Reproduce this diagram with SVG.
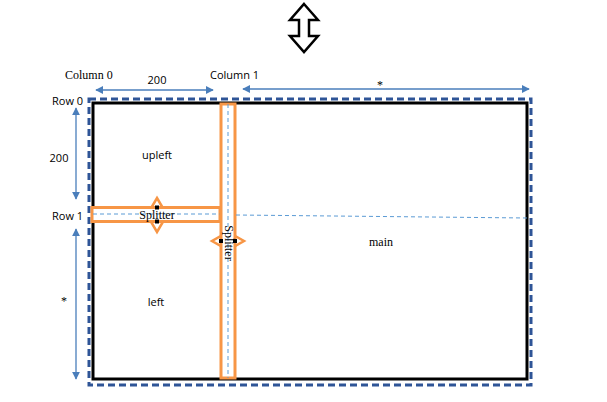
<svg xmlns="http://www.w3.org/2000/svg" width="607" height="402" viewBox="0 0 607 402">
<style>
.serif{font-family:"Liberation Serif",serif;font-size:12px;fill:#000}
.sans{font-family:"Open Sans","Liberation Sans",sans-serif;font-size:11px;fill:#000}
.dim{stroke:#4A7EBB;stroke-width:1.3;fill:none}
.guide{stroke:#5B9BD5;stroke-width:1;stroke-dasharray:4 3;fill:none}
.spl{fill:#fff;stroke:#F79646;stroke-width:3}
.dia{fill:#fff;stroke:#F79646;stroke-width:2.5}
</style>
<defs>
<marker id="ah" viewBox="0 0 10 10" refX="9" refY="5" markerWidth="8" markerHeight="8" orient="auto-start-reverse" markerUnits="userSpaceOnUse">
<path d="M0,0 L10,5 L0,10 z" fill="#4A7EBB"/>
</marker>
</defs>
<rect width="607" height="402" fill="#fff"/>
<g id="bigarrow">
<path d="M304,4 L318,20 L309,20 L309,36 L318,36 L304,52 L290,36 L299,36 L299,20 L290,20 Z" fill="#fff" stroke="#000" stroke-width="2.5" stroke-linejoin="miter"/>
</g>
<g id="grid">
<rect x="89" y="99" width="442" height="286" fill="none" stroke="#2F5597" stroke-width="3" stroke-dasharray="7 4"/>
<rect x="93" y="103" width="434" height="276" fill="none" stroke="#000" stroke-width="3"/>
</g>
<g id="connectors">
<line class="dim" x1="96" y1="90" x2="213" y2="90" marker-start="url(#ah)" marker-end="url(#ah)"/>
<line class="dim" x1="243" y1="89" x2="529" y2="89" marker-start="url(#ah)" marker-end="url(#ah)"/>
<line class="dim" x1="76" y1="108" x2="76" y2="199" marker-start="url(#ah)" marker-end="url(#ah)"/>
<line class="dim" x1="76" y1="229" x2="76" y2="379" marker-start="url(#ah)" marker-end="url(#ah)"/>
</g>
<g id="hsplitter">
<path class="dia" d="M157,198 L167,215 L157,232 L147,215 Z"/>
<rect class="spl" x="92" y="207.5" width="128" height="14"/>
<line class="guide" x1="93" y1="214" x2="220" y2="214"/>
<rect x="155" y="205.5" width="4" height="4" fill="#000"/>
<rect x="155" y="219.5" width="4" height="4" fill="#000"/>
<text class="serif" x="157" y="219" text-anchor="middle">Splitter</text>
</g>
<g id="vsplitter">
<path class="dia" d="M228,232 L244,241 L228,250 L212,241 Z"/>
<rect class="spl" x="221" y="104" width="14" height="274"/>
<line class="guide" x1="228" y1="104" x2="228" y2="378"/>
<line class="guide" x1="236" y1="215" x2="527" y2="218"/>
<rect x="219" y="239" width="4" height="4" fill="#000"/>
<rect x="233" y="239" width="4" height="4" fill="#000"/>
<text class="serif" transform="translate(225,243) rotate(90)" text-anchor="middle">Splitter</text>
</g>
<g id="labels">
<text class="serif" x="65" y="79">Column 0</text>
<text class="sans" x="210" y="79">Column 1</text>
<text class="sans" x="157" y="84" text-anchor="middle">200</text>
<text class="serif" x="380" y="89" text-anchor="middle">*</text>
<text class="sans" x="52" y="105">Row 0</text>
<text class="sans" x="52" y="220">Row 1</text>
<text class="sans" x="59" y="162" text-anchor="middle">200</text>
<text class="serif" x="64" y="305" text-anchor="middle">*</text>
<text class="sans" x="157" y="159" text-anchor="middle">upleft</text>
<text class="sans" x="156" y="306" text-anchor="middle">left</text>
<text class="serif" x="381" y="246" text-anchor="middle">main</text>
</g>
</svg>
